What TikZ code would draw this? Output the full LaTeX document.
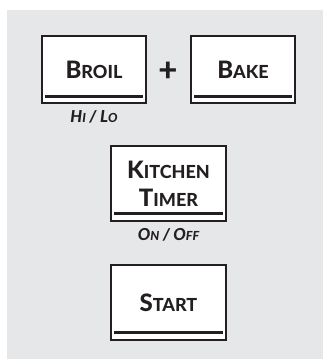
\documentclass[tikz,border=0pt]{standalone}
\usepackage{fontspec}
\setmainfont{Lato}[BoldFont={Lato Heavy},BoldItalicFont={Lato Heavy Italic}]
\usepackage{tikz}
\usetikzlibrary{arrows.meta,positioning,calc}
\definecolor{PanelGray}{HTML}{E6E7E8}
\definecolor{KeyInk}{HTML}{231F20}
\newcommand{\keycap}[2]{{\fontsize{24}{28}\selectfont #1}{\fontsize{18}{28}\selectfont #2}}
\newcommand{\modecap}[2]{{\fontsize{16.5}{18}\selectfont #1}{\fontsize{12.5}{18}\selectfont #2}}

\begin{document}
\begin{tikzpicture}[x=1pt,y=1pt,
    keybox/.style={draw=KeyInk, line width=1.3pt, fill=white, inner sep=0pt,
      minimum width=#1, font=\bfseries\fontsize{24}{28}\selectfont, text=KeyInk, align=center},
    keybar/.style={draw=KeyInk, line width=3.3pt},
    modelabel/.style={font=\bfseries\itshape\fontsize{16.5}{18}\selectfont, text=KeyInk}]
    \useasboundingbox (0,0) rectangle (323,360);
    \fill[PanelGray] (7,1) rectangle (323,350);

    \node[keybox=104pt, minimum height=67pt] (broil) at (94,290.5) {\keycap{B}{ROIL}};
    \node[keybox=104pt, minimum height=67pt] (bake) at (243,290.5) {\keycap{B}{AKE}};
    \node[font=\bfseries\fontsize{33}{33}\selectfont, text=KeyInk] (plus) at (168,288) {+};
    \node[modelabel] (hilo) at (94,243) {\modecap{H}{I} / \modecap{L}{O}};

    \node[keybox=115pt, minimum height=75pt] (timer) at (168.5,176.5)
        {\keycap{K}{ITCHEN}\\\keycap{T}{IMER}};
    \node[modelabel] (onoff) at (168.5,125) {\modecap{O}{N} / \modecap{O}{FF}};

    \node[keybox=115pt, minimum height=75pt] (start) at (168.5,57.5) {\keycap{S}{TART}};

    % bars along the lower edge of each key
    \draw[keybar] ($(broil.south west)+(4,7.5)$) -- ($(broil.south east)+(-4,7.5)$);
    \draw[keybar] ($(bake.south west)+(4,7.5)$) -- ($(bake.south east)+(-4,7.5)$);
    \draw[keybar] ($(timer.south west)+(4,8)$) -- ($(timer.south east)+(-4,8)$);
    \draw[keybar] ($(start.south west)+(4,8)$) -- ($(start.south east)+(-4,8)$);
\end{tikzpicture}
\end{document}
